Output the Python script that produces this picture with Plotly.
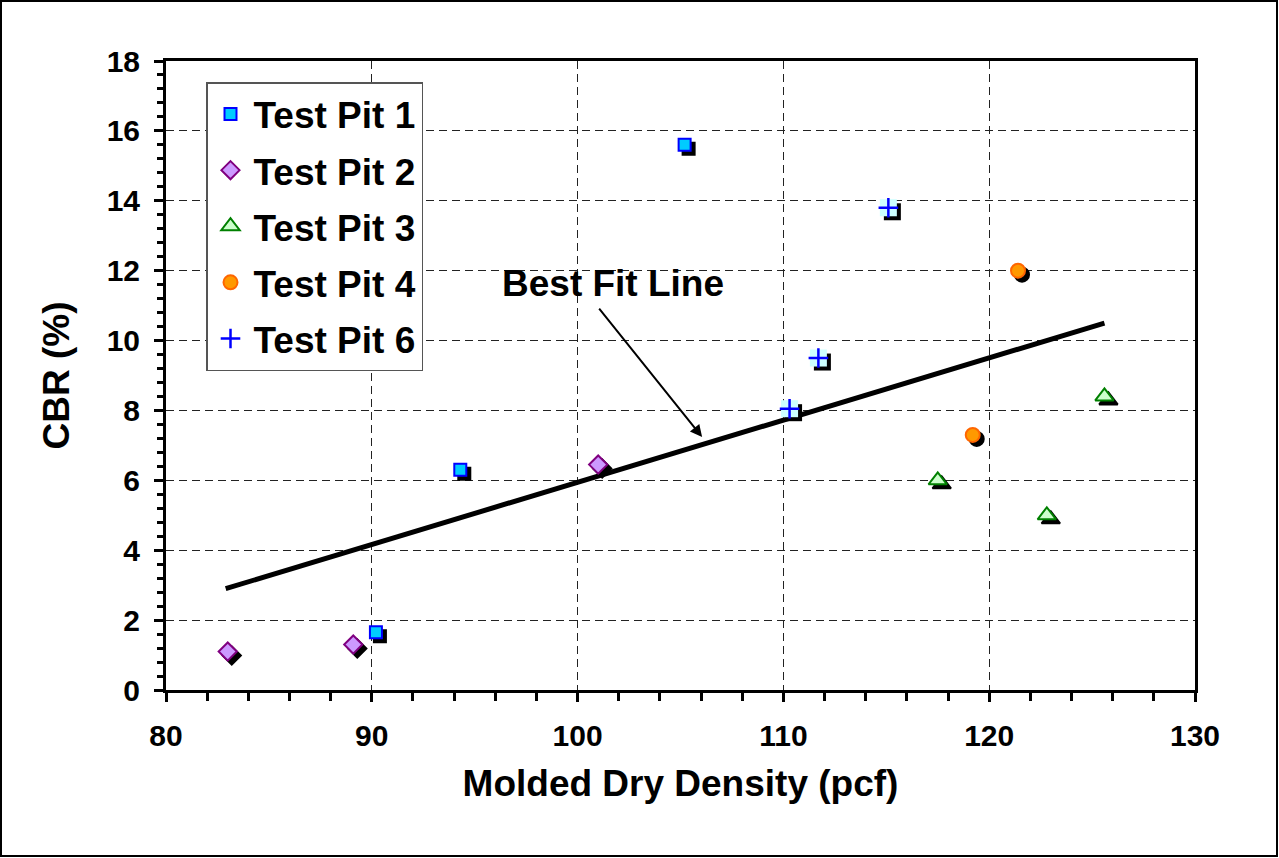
import plotly.graph_objects as go

# ---- data ----
tp1_x = [105.2, 94.3, 90.2]
tp1_y = [15.6, 6.3, 1.65]
tp2_x = [83.0, 89.1, 101.0]
tp2_y = [1.1, 1.3, 6.45]
tp3_x = [125.6, 122.8, 117.5]
tp3_y = [8.4, 5.0, 6.0]
tp4_x = [121.4, 119.2]
tp4_y = [12.0, 7.3]
tp6_x = [115.1, 111.7, 110.3]
tp6_y = [13.8, 9.5, 8.05]
fit_x = [82.9, 125.6]
fit_y = [2.9, 10.5]

x_range = [80, 130]
y_range = [0, 18]

FONT = "Arial, 'Liberation Sans', Arimo, sans-serif"

# plot-area geometry (pixels) for shadow offsets
L, R, T, B = 166, 84, 61, 168
W, H = 1279, 858
pw, ph = W - L - R, H - T - B
dx = 4 * (x_range[1] - x_range[0]) / pw
dy = -4 * (y_range[1] - y_range[0]) / ph

fig = go.Figure()

def add_series(name, xs, ys, symbol, size, fill, border, lw=2):
    fig.add_trace(go.Scatter(
        x=[v + dx for v in xs], y=[v + dy for v in ys], mode="markers",
        marker=dict(symbol=symbol, size=size, color="black",
                    line=dict(color="black", width=lw)),
        showlegend=False, hoverinfo="skip", legendgroup=name))
    fig.add_trace(go.Scatter(
        x=xs, y=ys, mode="markers", name=name, legendgroup=name,
        marker=dict(symbol=symbol, size=size, color=fill,
                    line=dict(color=border, width=lw))))

# best fit line
fig.add_trace(go.Scatter(x=fit_x, y=fit_y, mode="lines",
                         line=dict(color="black", width=5),
                         showlegend=False, hoverinfo="skip"))

add_series("Test Pit 1", tp1_x, tp1_y, "square", 12, "#00ccff", "#0000ff")
add_series("Test Pit 2", tp2_x, tp2_y, "diamond", 14, "#cc99ff", "#800080")
add_series("Test Pit 3", tp3_x, tp3_y, "triangle-up", 16, "#ccffcc", "#008000")
add_series("Test Pit 4", tp4_x, tp4_y, "circle", 14, "#ff9900", "#ff6600")

# Test Pit 6: shadow square, light-cyan square background, blue cross
fig.add_trace(go.Scatter(
    x=[v + dx for v in tp6_x], y=[v + dy for v in tp6_y], mode="markers",
    marker=dict(symbol="square", size=17, color="black"),
    showlegend=False, hoverinfo="skip", legendgroup="Test Pit 6"))
fig.add_trace(go.Scatter(
    x=tp6_x, y=tp6_y, mode="markers",
    marker=dict(symbol="square", size=17, color="#ccffff"),
    showlegend=False, hoverinfo="skip", legendgroup="Test Pit 6"))
fig.add_trace(go.Scatter(
    x=tp6_x, y=tp6_y, mode="markers", name="Test Pit 6", legendgroup="Test Pit 6",
    marker=dict(symbol="cross-thin", size=14, color="#0000ff",
                line=dict(color="#0000ff", width=2.5))))

axis_common = dict(
    showline=True, linewidth=3, linecolor="black", mirror=True,
    ticks="outside", ticklen=9, tickwidth=3, tickcolor="black",
    showgrid=True, gridcolor="#222222", gridwidth=1, griddash="8px,5px",
    zeroline=False,
    tickfont=dict(family=FONT, size=30, color="black", weight="bold"),
)

fig.update_xaxes(
    range=x_range, dtick=10, tick0=80, ticklabelstandoff=8, **axis_common,
    minor=dict(dtick=2, ticks="outside", ticklen=8, tickwidth=3, tickcolor="black", showgrid=False),
    title=dict(text="<b>Molded Dry Density (pcf)</b>", standoff=20,
               font=dict(family=FONT, size=37, color="black")),
)
fig.update_yaxes(
    range=y_range, dtick=2, tick0=0, ticklabelstandoff=8, **axis_common,
    minor=dict(dtick=0.4, ticks="outside", ticklen=6, tickwidth=3, tickcolor="black", showgrid=False),
    title=dict(text="<b>CBR (%)</b>", standoff=26,
               font=dict(family=FONT, size=37, color="black")),
)

fig.add_annotation(x=101.72, y=11.62, xref="x", yref="y", text="<b>Best Fit Line</b>",
                   showarrow=False, font=dict(family=FONT, size=37, color="black"))
fig.add_annotation(x=106.05, y=7.24, ax=100.99, ay=10.96, xref="x", yref="y",
                   axref="x", ayref="y", text="", showarrow=True,
                   arrowhead=2, arrowsize=1.2, arrowwidth=2, arrowcolor="black")

# outer chart border
fig.add_shape(type="rect", xref="paper", yref="paper",
              x0=(1 - L) / pw, x1=(W - 2 - L) / pw,
              y0=(H - B - (H - 2)) / ph, y1=(H - B - 1) / ph,
              line=dict(color="black", width=2), fillcolor="rgba(0,0,0,0)", layer="below")

fig.update_layout(
    width=W, height=H,
    margin=dict(l=L, r=R, t=T, b=B),
    paper_bgcolor="white", plot_bgcolor="white",
    font=dict(family=FONT, color="black"),
    legend=dict(x=(206 - L) / pw, y=(H - B - 82) / ph, xanchor="left", yanchor="top",
                bgcolor="white", bordercolor="#555555", borderwidth=1.5,
                font=dict(family=FONT, size=37, color="black", weight="bold"),
                traceorder="grouped", tracegroupgap=5, itemwidth=36),
    showlegend=True,
)

fig.write_html("out.html", config={"displayModeBar": False})
